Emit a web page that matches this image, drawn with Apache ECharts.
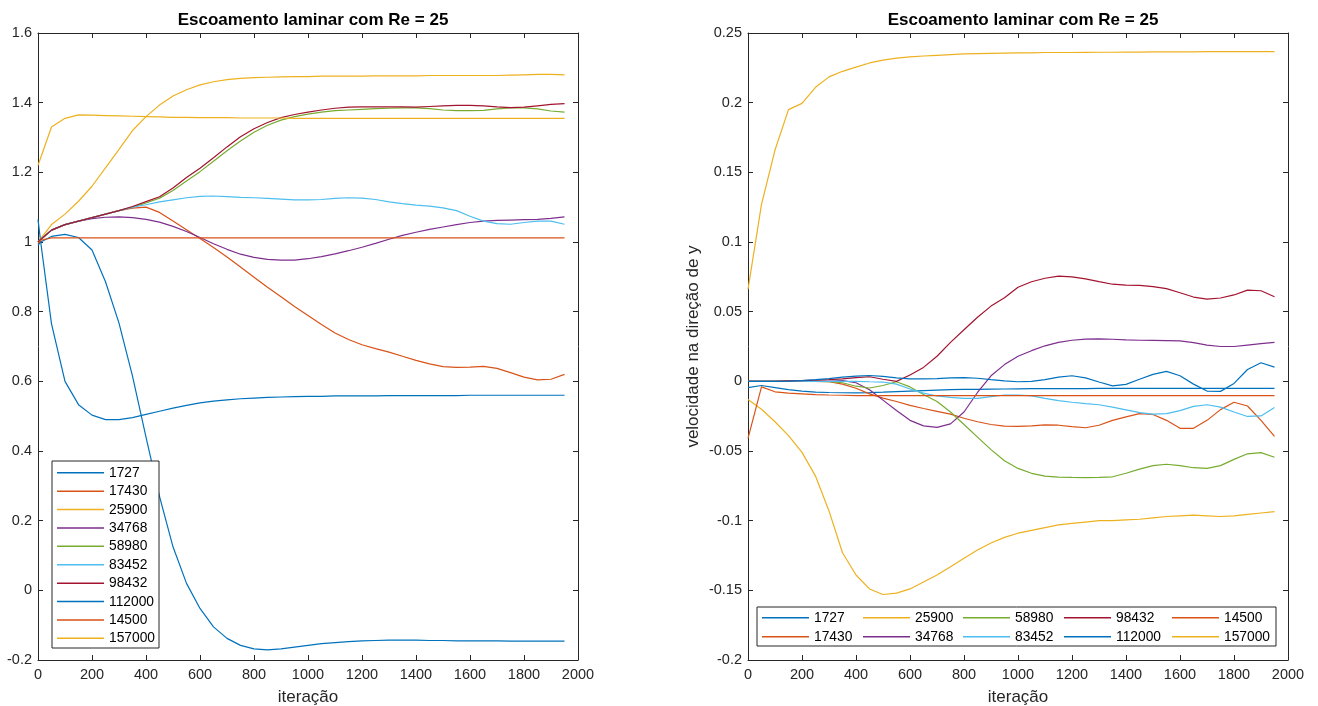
<!DOCTYPE html>
<html><head><meta charset="utf-8">
<script src="https://cdn.jsdelivr.net/npm/echarts@6/dist/echarts.min.js"></script>
<style>html,body{margin:0;padding:0;background:#fff}#c{width:1318px;height:706px}</style>
</head><body><div id="c"></div>
<script>
// ---------- data ----------
const seriesNames = ['1727','17430','25900','34768','58980','83452','98432','112000','14500','157000'];
const colors = ['#0072BD','#D95319','#EDB120','#7E2F8E','#77AC30','#4DBEEE','#A2142F','#0072BD','#D95319','#EDB120'];
const xTicks = [0,200,400,600,800,1000,1200,1400,1600,1800,2000];
const yTicksLeft = [-0.2,0,0.2,0.4,0.6,0.8,1,1.2,1.4,1.6];
const yTicksRight = [-0.2,-0.15,-0.1,-0.05,0,0.05,0.1,0.15,0.2,0.25];

// left plot iterations
const iterLeft = [0,10,50,100,150,200,250,300,350,400,450,500,550,600,650,700,750,800,850,900,950,1000,1050,1100,1150,1200,1250,1300,1350,1400,1450,1500,1550,1600,1650,1700,1750,1800,1850,1900,1950];
const L_1727 = [1.065,1.0,0.765,0.6,0.533,0.503,0.49,0.49,0.496,0.505,0.514,0.523,0.531,0.538,0.543,0.547,0.55,0.552,0.554,0.555,0.556,0.557,0.557,0.558,0.558,0.558,0.558,0.559,0.559,0.559,0.559,0.559,0.559,0.56,0.56,0.56,0.56,0.56,0.56,0.56,0.56];
const L_17430 = [1.0,1.007,1.034,1.05,1.06,1.07,1.08,1.09,1.097,1.1,1.085,1.06,1.035,1.01,0.984,0.957,0.928,0.899,0.87,0.843,0.815,0.789,0.763,0.739,0.72,0.705,0.694,0.684,0.672,0.66,0.65,0.642,0.64,0.641,0.643,0.637,0.625,0.612,0.604,0.606,0.62];
const L_25900 = [1.0,1.01,1.05,1.08,1.117,1.16,1.213,1.266,1.32,1.36,1.393,1.419,1.437,1.451,1.46,1.466,1.47,1.472,1.473,1.474,1.475,1.475,1.476,1.476,1.476,1.476,1.477,1.477,1.477,1.477,1.478,1.478,1.478,1.478,1.478,1.478,1.479,1.48,1.481,1.481,1.48];
const L_34768 = [1.0,1.007,1.034,1.05,1.06,1.067,1.071,1.072,1.07,1.065,1.057,1.045,1.03,1.013,0.995,0.979,0.965,0.956,0.95,0.948,0.948,0.952,0.958,0.966,0.975,0.985,0.996,1.008,1.019,1.028,1.036,1.043,1.05,1.056,1.06,1.062,1.063,1.064,1.065,1.068,1.072];
const L_58980 = [1.0,1.007,1.034,1.05,1.06,1.07,1.08,1.09,1.1,1.112,1.126,1.148,1.175,1.202,1.232,1.262,1.29,1.315,1.335,1.35,1.36,1.367,1.373,1.377,1.379,1.381,1.383,1.384,1.385,1.385,1.383,1.379,1.377,1.377,1.378,1.382,1.385,1.385,1.382,1.376,1.373];
const L_83452 = [1.0,1.007,1.034,1.05,1.06,1.07,1.08,1.09,1.1,1.107,1.115,1.121,1.127,1.131,1.132,1.13,1.128,1.127,1.125,1.123,1.121,1.121,1.122,1.125,1.127,1.126,1.122,1.115,1.11,1.106,1.103,1.098,1.09,1.074,1.06,1.053,1.051,1.056,1.06,1.06,1.051];
const L_98432 = [1.0,1.007,1.034,1.05,1.06,1.07,1.08,1.09,1.102,1.116,1.13,1.155,1.185,1.212,1.242,1.273,1.302,1.325,1.343,1.357,1.366,1.373,1.379,1.384,1.387,1.388,1.388,1.388,1.388,1.387,1.389,1.391,1.392,1.392,1.391,1.388,1.386,1.387,1.391,1.395,1.397];
const L_112000 = [0.99,1.0,1.016,1.022,1.013,0.977,0.886,0.767,0.615,0.44,0.27,0.125,0.02,-0.052,-0.105,-0.138,-0.158,-0.168,-0.171,-0.168,-0.163,-0.158,-0.153,-0.15,-0.147,-0.145,-0.144,-0.143,-0.143,-0.143,-0.144,-0.144,-0.145,-0.145,-0.145,-0.145,-0.146,-0.146,-0.146,-0.146,-0.146];
const L_14500 = [0.995,1.005,1.012,1.012,1.012,1.012,1.012,1.012,1.012,1.012,1.012,1.012,1.012,1.012,1.012,1.012,1.012,1.012,1.012,1.012,1.012,1.012,1.012,1.012,1.012,1.012,1.012,1.012,1.012,1.012,1.012,1.012,1.012,1.012,1.012,1.012,1.012,1.012,1.012,1.012,1.012];
const L_157000 = [1.22,1.242,1.33,1.355,1.365,1.364,1.363,1.362,1.361,1.36,1.359,1.358,1.358,1.357,1.357,1.357,1.356,1.356,1.356,1.356,1.355,1.355,1.355,1.355,1.355,1.355,1.355,1.355,1.355,1.355,1.355,1.355,1.355,1.355,1.355,1.355,1.355,1.355,1.355,1.355,1.355];

// right plot iterations
const iterRight = [0,50,100,150,200,250,300,350,400,450,500,550,600,650,700,750,800,850,900,950,1000,1050,1100,1150,1200,1250,1300,1350,1400,1450,1500,1550,1600,1650,1700,1750,1800,1850,1900,1950];
const R_1727 = [-0.0045,-0.003,-0.0045,-0.006,-0.007,-0.0077,-0.008,-0.0082,-0.0083,-0.0081,-0.0078,-0.0074,-0.007,-0.0066,-0.0063,-0.006,-0.0058,-0.0057,-0.0056,-0.0055,-0.0054,-0.0053,-0.0053,-0.0052,-0.0052,-0.0052,-0.0051,-0.0051,-0.0051,-0.0051,-0.005,-0.005,-0.005,-0.005,-0.005,-0.005,-0.005,-0.005,-0.005,-0.005];
const R_17430 = [0,0,0,0,0,0,-0.0003,-0.002,-0.005,-0.009,-0.012,-0.0145,-0.0173,-0.0195,-0.0215,-0.0235,-0.0265,-0.029,-0.031,-0.0322,-0.0323,-0.032,-0.0312,-0.0315,-0.0325,-0.0333,-0.0315,-0.028,-0.0255,-0.0232,-0.0238,-0.028,-0.0337,-0.0337,-0.028,-0.0203,-0.015,-0.0177,-0.028,-0.0395];
const R_25900 = [-0.013,-0.02,-0.029,-0.039,-0.051,-0.068,-0.093,-0.123,-0.139,-0.149,-0.153,-0.152,-0.149,-0.144,-0.139,-0.133,-0.127,-0.121,-0.116,-0.112,-0.109,-0.107,-0.105,-0.103,-0.102,-0.101,-0.1,-0.1,-0.0995,-0.099,-0.098,-0.097,-0.0965,-0.096,-0.0965,-0.097,-0.0965,-0.0955,-0.0945,-0.0935];
const R_34768 = [0,0,0,0,0,0,0,0.0005,-0.001,-0.006,-0.0135,-0.021,-0.028,-0.032,-0.033,-0.0305,-0.022,-0.008,0.004,0.012,0.018,0.022,0.0255,0.028,0.0295,0.0303,0.0305,0.0302,0.0297,0.0295,0.0294,0.0292,0.029,0.0278,0.026,0.025,0.025,0.026,0.027,0.028];
const R_58980 = [0,0,0,0,0,0,-0.0002,-0.001,-0.0035,-0.0048,-0.003,-0.0003,-0.004,-0.0095,-0.0145,-0.022,-0.031,-0.04,-0.049,-0.057,-0.0625,-0.066,-0.068,-0.0687,-0.069,-0.0691,-0.069,-0.0685,-0.066,-0.063,-0.0605,-0.0595,-0.0605,-0.062,-0.0625,-0.0605,-0.056,-0.052,-0.0512,-0.0545];
const R_83452 = [0,0,0,0,0,0,0,0,0,-0.0003,-0.0005,-0.002,-0.0055,-0.0085,-0.0105,-0.0115,-0.0122,-0.0122,-0.011,-0.0098,-0.0098,-0.0105,-0.0122,-0.0138,-0.015,-0.016,-0.0168,-0.0185,-0.0205,-0.0225,-0.0236,-0.0232,-0.021,-0.018,-0.0168,-0.0185,-0.022,-0.0252,-0.0248,-0.0188];
const R_98432 = [0,0,0,0.0003,0.0005,0.0008,0.0012,0.0018,0.0027,0.0033,0.0015,0,0.0045,0.01,0.018,0.028,0.037,0.046,0.054,0.06,0.0675,0.0715,0.074,0.0755,0.075,0.0735,0.0715,0.0697,0.069,0.0688,0.068,0.0665,0.0636,0.0605,0.059,0.0598,0.062,0.0655,0.065,0.0607];
const R_112000 = [0,0,0,0.0002,0.0006,0.0012,0.002,0.003,0.0038,0.0042,0.0035,0.0025,0.0018,0.0018,0.002,0.0025,0.0026,0.0022,0.0012,0.0003,-0.0003,0,0.0012,0.003,0.004,0.0025,-0.0005,-0.0033,-0.0022,0.0015,0.005,0.0071,0.004,-0.002,-0.007,-0.0072,-0.0015,0.0085,0.0133,0.0102];
const R_14500 = [-0.041,-0.004,-0.0075,-0.0085,-0.009,-0.0095,-0.0098,-0.01,-0.0102,-0.0102,-0.0102,-0.0102,-0.0102,-0.0102,-0.0102,-0.0102,-0.0102,-0.0102,-0.0102,-0.0102,-0.0102,-0.0102,-0.0102,-0.0102,-0.0102,-0.0102,-0.0102,-0.0102,-0.0102,-0.0102,-0.0102,-0.0102,-0.0102,-0.0102,-0.0102,-0.0102,-0.0102,-0.0102,-0.0102,-0.0102];
const R_157000 = [0.066,0.127,0.166,0.195,0.1995,0.211,0.2185,0.2225,0.2255,0.2285,0.2305,0.232,0.2328,0.2335,0.234,0.2345,0.235,0.2352,0.2354,0.2356,0.2357,0.2358,0.236,0.236,0.236,0.2361,0.2362,0.2362,0.2363,0.2363,0.2364,0.2364,0.2365,0.2365,0.2366,0.2366,0.2367,0.2367,0.2367,0.2366];

const leftValues = [L_1727,L_17430,L_25900,L_34768,L_58980,L_83452,L_98432,L_112000,L_14500,L_157000];
const rightValues = [R_1727,R_17430,R_25900,R_34768,R_58980,R_83452,R_98432,R_112000,R_14500,R_157000];

// ---------- chart ----------
const FONT = '"Liberation Sans", Arial, Helvetica, sans-serif';
const AX = '#262626';
const chart = echarts.init(document.getElementById('c'), null, {renderer:'canvas'});
const plainNum = v => String(Math.round(v*1000)/1000);

const grids = [
  {left:38, right:740, top:33, bottom:46, containLabel:false, outerBoundsMode:'none'},
  {left:748, right:30, top:33, bottom:46, containLabel:false, outerBoundsMode:'none'}
];

function xAxes(g){
  return [
    {type:'value', gridIndex:g, min:0, max:2000, interval:200, position:'bottom',
     axisLine:{show:true, onZero:false, lineStyle:{color:AX,width:1}},
     axisTick:{show:true, inside:true, length:5, lineStyle:{color:AX}},
     axisLabel:{color:AX, fontFamily:FONT, fontSize:14.5, margin:7, formatter:plainNum},
     splitLine:{show:false},
     name:'iteração', nameLocation:'middle', nameGap:29,
     nameTextStyle:{color:AX, fontFamily:FONT, fontSize:17}},
    {type:'value', gridIndex:g, min:0, max:2000, interval:200, position:'top',
     axisLine:{show:true, onZero:false, lineStyle:{color:AX,width:1}},
     axisTick:{show:true, inside:true, length:5, lineStyle:{color:AX}},
     axisLabel:{show:false}, splitLine:{show:false}}
  ];
}
function yAxes(g, min, max, interval, name){
  const main = {type:'value', gridIndex:g, min:min, max:max, interval:interval, position:'left',
     axisLine:{show:true, onZero:false, lineStyle:{color:AX,width:1}},
     axisTick:{show:true, inside:true, length:5, lineStyle:{color:AX}},
     axisLabel:{color:AX, fontFamily:FONT, fontSize:14.5, margin:6, formatter:plainNum},
     splitLine:{show:false}};
  if(name){
    main.name = name; main.nameLocation='middle'; main.nameGap=46; main.nameRotate=90;
    main.nameTextStyle = {color:AX, fontFamily:FONT, fontSize:17};
  }
  return [main,
    {type:'value', gridIndex:g, min:min, max:max, interval:interval, position:'right',
     axisLine:{show:true, onZero:false, lineStyle:{color:AX,width:1}},
     axisTick:{show:true, inside:true, length:5, lineStyle:{color:AX}},
     axisLabel:{show:false}, splitLine:{show:false}}];
}

const series = [];
seriesNames.forEach((n,i)=>{
  series.push({type:'line', name:n, xAxisIndex:0, yAxisIndex:0, symbol:'none',
    lineStyle:{width:1.2, color:colors[i]}, itemStyle:{color:colors[i]}, z:2,
    data: iterLeft.map((x,k)=>[x, leftValues[i][k]])});
});
seriesNames.forEach((n,i)=>{
  series.push({type:'line', name:n, xAxisIndex:2, yAxisIndex:2, symbol:'none',
    lineStyle:{width:1.2, color:colors[i]}, itemStyle:{color:colors[i]}, z:2,
    data: iterRight.map((x,k)=>[x, rightValues[i][k]])});
});

// legend icon: a thin horizontal line inside a 47x14 box
const LINE_ICON = 'path://M0,0H0.01V0.01H0Z M0,6H47V7.5H0Z M0,13.99H0.01V14H0Z';
const legendText = {color:'#000', fontFamily:FONT, fontSize:13.8};
const legends = [
  {orient:'vertical', left:57, top:466, itemWidth:47, itemHeight:14, itemGap:4.4, padding:0,
   icon:LINE_ICON, textStyle:legendText, data:seriesNames, selectedMode:false, z:5}
];
const rightCols = [['1727','17430'],['25900','34768'],['58980','83452'],['98432','112000'],['14500','157000']];
const colLeft = [762, 863, 963, 1064, 1172];
rightCols.forEach((c,i)=>{
  legends.push({orient:'vertical', left:colLeft[i], top:611, itemWidth:47, itemHeight:14, itemGap:5, padding:0,
    icon:LINE_ICON, textStyle:legendText, data:c, selectedMode:false, z:5});
});

const titleStyle = {color:'#000', fontFamily:FONT, fontSize:17, fontWeight:'bold'};
chart.setOption({
  animation:false,
  backgroundColor:'#fff',
  title:[
    {text:'Escoamento laminar com Re = 25', left:308, top:7, textAlign:'center', textStyle:titleStyle},
    {text:'Escoamento laminar com Re = 25', left:1018, top:7, textAlign:'center', textStyle:titleStyle}
  ],
  grid:grids,
  xAxis:[...xAxes(0), ...xAxes(1)],
  yAxis:[...yAxes(0,-0.2,1.6,0.2,null), ...yAxes(1,-0.2,0.25,0.05,'velocidade na direção de y')],
  legend:legends,
  graphic:[
    {type:'rect', z:4, shape:{x:52, y:461, width:107, height:187}, style:{fill:'#fff', stroke:AX, lineWidth:1}},
    {type:'rect', z:4, shape:{x:757, y:607, width:519, height:39}, style:{fill:'#fff', stroke:AX, lineWidth:1}}
  ],
  series:series
});
</script></body></html>
